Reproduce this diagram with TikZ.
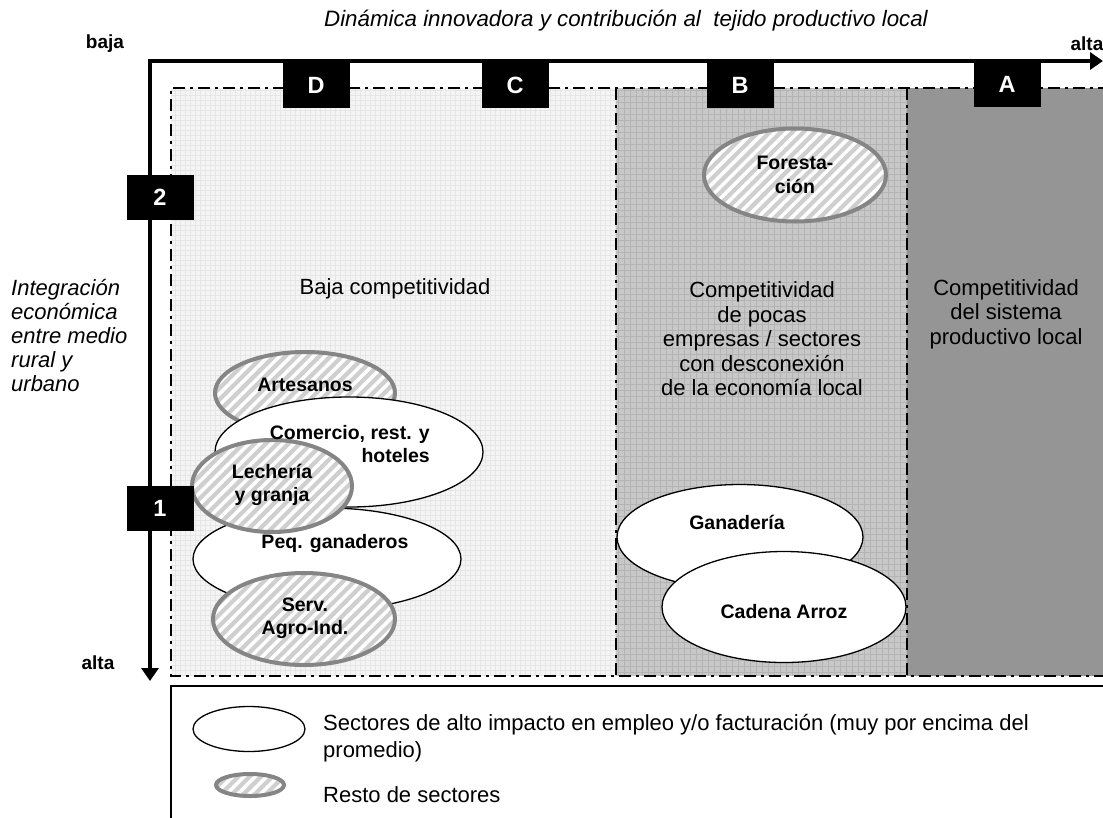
\documentclass[tikz,border=0pt]{standalone}
\usepackage{fontspec}
\setmainfont{Liberation Sans}
\usetikzlibrary{shapes.geometric,arrows.meta,patterns.meta}

\definecolor{lightbg}{HTML}{F4F4F4}
\definecolor{lightgrid}{HTML}{E6E6E6}
\definecolor{midbg}{HTML}{C8C8C8}
\definecolor{midgrid}{HTML}{B4B4B4}
\definecolor{darkbg}{HTML}{959595}
\definecolor{hatchborder}{HTML}{858585}
\definecolor{hatchfill}{HTML}{CFCFCF}

\begin{document}
\begin{tikzpicture}[x=1pt,y=-1pt,
  dashdot/.style={line width=2.2pt, dash pattern=on 12pt off 5pt on 3pt off 5pt},
  bigsector/.style={ellipse, draw=black, line width=1.3pt, fill=white, inner sep=0pt},
  restsector/.style={ellipse, draw=hatchborder, line width=4pt, inner sep=0pt,
     preaction={fill=hatchfill},
     pattern={Lines[angle=45,distance=8pt,line width=3.5pt]}, pattern color=white},
  tag/.style={fill=black, text=white, font=\fontsize{23.5}{23.5}\selectfont\bfseries,
     minimum width=67pt, minimum height=45pt, inner sep=0pt},
  sectorlabel/.style={font=\fontsize{19.5}{23.5}\selectfont\bfseries, align=center, inner sep=0pt},
  regiontext/.style={font=\fontsize{22}{24.5}\selectfont, align=center, inner sep=0pt},
  axislabel/.style={font=\fontsize{19}{19}\selectfont\bfseries, inner sep=0pt},
  legendtext/.style={font=\fontsize{22}{27}\selectfont, align=left, inner sep=0pt, anchor=west},
]
\useasboundingbox (0,0) rectangle (1103,817);

% regions
\fill[lightbg] (171,88) rectangle (616,676);
\draw[lightgrid, line width=0.4pt, step=5pt] (171,88) grid (616,676);
\fill[midbg] (616,88) rectangle (907,676);
\draw[midgrid, line width=0.6pt, step=6pt] (616,88) grid (907,676);
\fill[darkbg] (907,88) rectangle (1110,676);

\draw[dashdot] (1110,88) -- (171,88) -- (171,676) -- (1110,676);
\draw[dashdot] (616,88) -- (616,676);
\draw[dashdot] (907,88) -- (907,676);

% region texts
\node[regiontext] (lowc) at (395,289) {Baja competitividad};
\node[regiontext] (fewc) at (762,339) {Competitividad\\de pocas\\empresas / sectores\\con desconexión\\de la economía local};
\node[regiontext] (sysc) at (1006,314) {Competitividad\\del sistema\\productivo local};

% sectors
\node[restsector, minimum width=180pt, minimum height=82pt] (art) at (305,393) {};
\node[bigsector, minimum width=268pt, minimum height=110pt] (com) at (349,452) {};
\node[bigsector, minimum width=268pt, minimum height=102pt] (peq) at (327,559) {};
\node[restsector, minimum width=160pt, minimum height=92pt] (lech) at (272,486) {};
\node[restsector, minimum width=182pt, minimum height=92pt] (serv) at (304,619) {};
\node[restsector, minimum width=182pt, minimum height=93pt] (fore) at (795,175) {};
\node[bigsector, minimum width=246pt, minimum height=105pt] (gan) at (740,537) {};
\node[bigsector, minimum width=244pt, minimum height=111pt] (arroz) at (784,607) {};

\node[sectorlabel] (artl) at (305,385) {Artesanos};
\node[sectorlabel, align=right, anchor=east] (coml) at (430,444) {Comercio, rest. y\\hoteles};
\node[sectorlabel] (peql) at (335,543) {Peq. ganaderos};
\node[sectorlabel] (lechl) at (272,485) {Lechería\\y granja};
\node[sectorlabel] (servl) at (305,618) {Serv.\\Agro-Ind.};
\node[sectorlabel] (forel) at (795,175) {Foresta-\\ción};
\node[sectorlabel] (ganl) at (737,522) {Ganadería};
\node[sectorlabel] (arrozl) at (784,612) {Cadena Arroz};

% axes
\coordinate (corner) at (150,61);
\coordinate (xend) at (1103,61);
\coordinate (yend) at (150,681);
\draw[line width=4.5pt, line join=miter, {Triangle[length=13pt,width=17pt]}-{Triangle[length=13pt,width=17pt]}] (yend) -- (corner) -- (xend);

% tags
\node[tag] (tD) at (316,85) {D};
\node[tag] (tC) at (515,85) {C};
\node[tag] (tB) at (740,85) {B};
\node[tag] (tA) at (1007,84) {A};
\node[tag] (t2) at (160,197) {2};
\node[tag] (t1) at (160,508) {1};

% axis labels
\node[font=\fontsize{22.3}{22.3}\selectfont\itshape, inner sep=0pt] (title) at (626,21) {Dinámica innovadora y contribución al\ \ tejido productivo local};
\node[axislabel] (bajal) at (105,44) {baja};
\node[axislabel] (altax) at (1087,44) {alta};
\node[axislabel] (altay) at (98,663) {alta};
\node[font=\fontsize{22}{24}\selectfont\itshape, align=left, inner sep=0pt, anchor=west] (ylab) at (11,336) {Integración\\económica\\entre medio\\rural y\\urbano};

% legend
\draw[line width=1.5pt] (1115,686) -- (171,686) -- (171,830);
\node[bigsector, minimum width=112pt, minimum height=45pt] (lgbig) at (249,729) {};
\node[restsector, minimum width=68pt, minimum height=22pt] (lgrest) at (250,785) {};
\node[legendtext] (lgbigt) at (323,738) {Sectores de alto impacto en empleo y/o facturación (muy por encima del\\promedio)};
\node[legendtext] (lgrestt) at (323,795) {Resto de sectores};
\end{tikzpicture}
\end{document}
